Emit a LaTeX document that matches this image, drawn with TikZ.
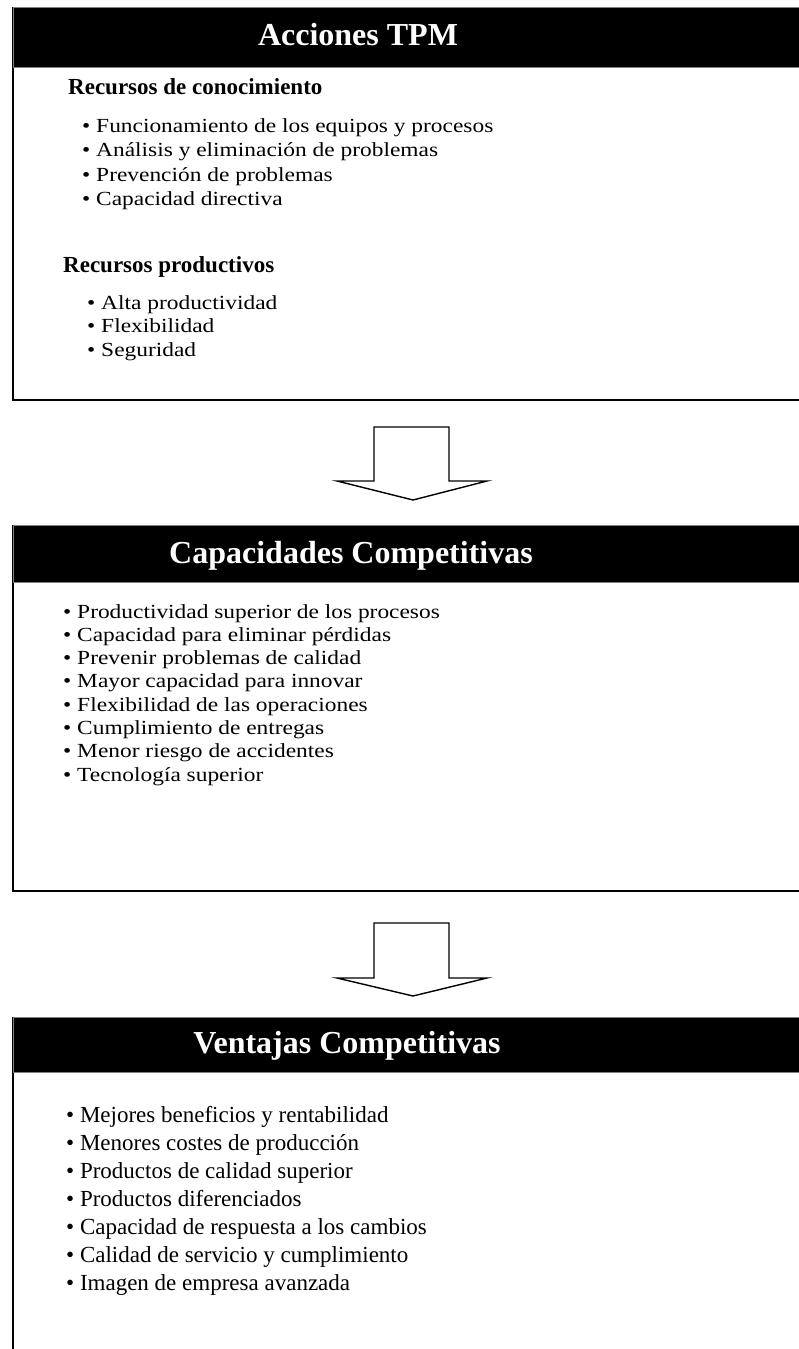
\documentclass[tikz,border=0pt]{standalone}
\usepackage{fontspec}
\setmainfont{Liberation Serif}
\newfontfamily\listfont[FakeStretch=1.17]{Liberation Serif}
\usetikzlibrary{positioning}

\begin{document}
\begin{tikzpicture}[x=1pt,y=-1pt,
	cabecera/.style={fill=black,draw=gray,line width=0.8pt,anchor=north west,
		minimum width=830pt,inner sep=0pt},
	titulo/.style={text=white,font=\bfseries\fontsize{32}{36}\selectfont,
		anchor=base,inner sep=0pt},
	marco/.style={draw=black,line width=1.6pt},
	apartado/.style={font=\bfseries\fontsize{23}{26}\selectfont,anchor=base west,inner sep=0pt},
	punto/.style={font=\listfont\fontsize{20}{24}\selectfont,anchor=base west,inner sep=0pt},
	puntob/.style={font=\fontsize{23}{26}\selectfont,anchor=base west,inner sep=0pt},
	flecha/.style={draw=black,fill=white,line width=1.4pt,line join=miter}]
	\useasboundingbox (0,0) rectangle (799,1349);
	\clip (0,0) rectangle (799,1349);
	
	% Acciones TPM
	\draw[marco] (13,7) -- (13,400) -- (830,400);
	\node[cabecera,minimum height=60pt] (acc) at (13,7) {};
	\node[titulo] (tacc) at (358,45) {Acciones TPM};
	\node[apartado] (rc) at (68,94) {Recursos de conocimiento};
	\foreach \t [count=\i] in {Funcionamiento de los equipos y procesos,
		Análisis y eliminación de problemas,Prevención de problemas,Capacidad directiva}
		\node[punto] (rc\i) at (82,{132+(\i-1)*24.5}) {•\ \t};
	\node[apartado] (rp) at (63,272) {Recursos productivos};
	\foreach \t [count=\i] in {Alta productividad,Flexibilidad,Seguridad}
		\node[punto] (rp\i) at (87,{309+(\i-1)*23.5}) {•\ \t};
	
	% flecha 1
	\draw[flecha] (374,427) -- (449,427) -- (449,481) -- (487,481) -- (413,500)
		-- (337,481) -- (374,481) -- cycle;
	
	% Capacidades Competitivas
	\draw[marco] (13,525) -- (13,891) -- (830,891);
	\node[cabecera,minimum height=57pt] (cap) at (13,525) {};
	\node[titulo] (tcap) at (351,563) {Capacidades Competitivas};
	\foreach \t [count=\i] in {Productividad superior de los procesos,
		Capacidad para eliminar pérdidas,Prevenir problemas de calidad,
		Mayor capacidad para innovar,Flexibilidad de las operaciones,
		Cumplimiento de entregas,Menor riesgo de accidentes,Tecnología superior}
		\node[punto] (cc\i) at (63,{618+(\i-1)*23.3}) {•\ \t};
	
	% flecha 2
	\draw[flecha] (374,923) -- (449,923) -- (449,978) -- (487,978) -- (413,996)
		-- (337,978) -- (374,978) -- cycle;
	
	% Ventajas Competitivas
	\draw[marco] (13,1017) -- (13,1360);
	\node[cabecera,minimum height=55pt] (ven) at (13,1017) {};
	\node[titulo] (tven) at (347,1053) {Ventajas Competitivas};
	\foreach \t [count=\i] in {Mejores beneficios y rentabilidad,
		Menores costes de producción,Productos de calidad superior,
		Productos diferenciados,Capacidad de respuesta a los cambios,
		Calidad de servicio y cumplimiento,Imagen de empresa avanzada}
		\node[puntob] (vc\i) at (66,{1122+(\i-1)*28}) {•\ \t};
\end{tikzpicture}
\end{document}
